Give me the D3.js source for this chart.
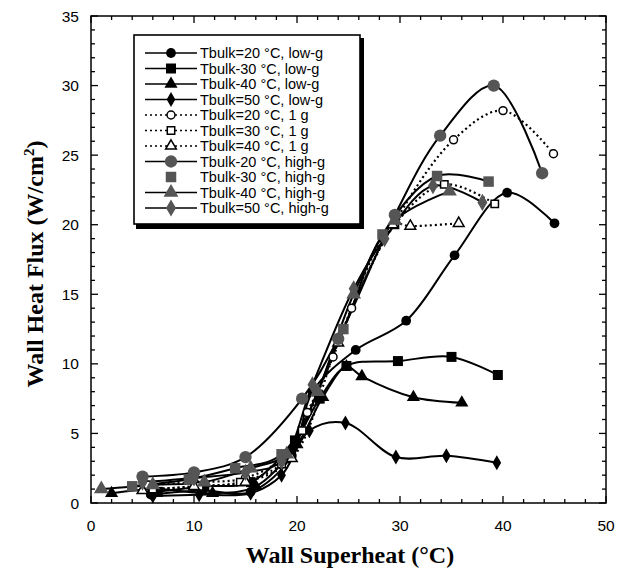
<!DOCTYPE html>
<html>
<head>
<meta charset="utf-8">
<script src="https://cdn.jsdelivr.net/npm/d3@7"></script>
<style>
  body { margin: 0; background: #fff; }
  svg { display: block; }
</style>
</head>
<body>
<svg width="627" height="577"></svg>
<script>
// wall superheat (°C), wall heat flux (W/cm2)
const lowG20 = [[5.8,0.6],[10.8,0.9],[15.5,0.8],[19.5,3.4],[21.5,8.0],[25.7,11.0],[30.6,13.1],[35.3,17.8],[40.4,22.3],[45.0,20.1]];
const lowG30 = [[6.5,0.8],[11,1.2],[15.5,1.5],[19.8,4.5],[22.2,7.5],[24.8,9.85],[29.8,10.2],[35.0,10.5],[39.5,9.2]];
const lowG40 = [[2.0,0.7],[6.2,1.0],[11.8,0.7],[16,1.2],[20,4.2],[22.5,7.6],[24.8,9.8],[26.3,9.1],[31.3,7.6],[36.0,7.2]];
const lowG50 = [[6,0.5],[10.5,0.6],[15.5,0.7],[18.5,2.0],[21.2,5.2],[24.7,5.75],[29.6,3.3],[34.5,3.4],[39.4,2.9]];
const oneG20 = [[5.5,1.3],[10,1.5],[15,1.8],[19,3.5],[21,6.5],[23.5,10.5],[25.3,14.0],[29.5,20.2],[35.2,26.1],[40.0,28.2],[44.9,25.1]];
const oneG30 = [[6,1.0],[10.5,1.2],[14.5,1.5],[18.5,2.8],[20.5,5.2],[24.5,12.5],[29.5,20.0],[34.3,22.9],[39.2,21.5]];
const oneG40 = [[5,0.9],[10,1.2],[15,1.5],[19.5,3.2],[24,11.5],[29.3,20.0],[31.0,19.9],[35.7,20.1]];
const highG20 = [[5,1.9],[10,2.2],[15,3.3],[20.5,7.5],[24,11.8],[29.5,20.7],[33.9,26.4],[39.1,30.0],[43.8,23.7]];
const highG30 = [[4,1.2],[9.5,1.7],[14,2.5],[18.5,3.5],[24.5,12.5],[28.3,19.3],[33.6,23.5],[38.6,23.1]];
const highG40 = [[1,1.0],[6,1.3],[11,1.5],[15.5,2.5],[19,3.5],[22,8],[25.5,15],[29.5,20.3],[34.8,22.4]];
const highG50 = [[5,1.5],[10,1.8],[15,2.2],[18.5,3.0],[21.5,8.5],[25.5,15.4],[28.5,19.0],[33.2,22.8],[38.0,21.6]];

const labels = [
  "Tbulk=20 °C, low-g", "Tbulk-30 °C, low-g", "Tbulk-40 °C, low-g", "Tbulk=50 °C, low-g",
  "Tbulk=20 °C, 1 g", "Tbulk=30 °C, 1 g", "Tbulk=40 °C, 1 g",
  "Tbulk-20 °C, high-g", "Tbulk-30 °C, high-g", "Tbulk-40 °C, high-g", "Tbulk=50 °C, high-g"
];

const gray = "#555";
const series = [
  { data: lowG20, sym: d3.symbolCircle, size: 75, fill: "#000", dash: null },
  { data: lowG30, sym: d3.symbolSquare, size: 100, fill: "#000", dash: null },
  { data: lowG40, sym: d3.symbolTriangle, size: 75, fill: "#000", dash: null },
  { data: lowG50, sym: d3.symbolDiamond, size: 65, fill: "#000", dash: null },
  { data: oneG20, sym: d3.symbolCircle, size: 50, fill: "#fff", dash: "2,3" },
  { data: oneG30, sym: d3.symbolSquare, size: 55, fill: "#fff", dash: "2,3" },
  { data: oneG40, sym: d3.symbolTriangle, size: 50, fill: "#fff", dash: "2,3" },
  { data: highG20, sym: d3.symbolCircle, size: 120, fill: gray, dash: null },
  { data: highG30, sym: d3.symbolSquare, size: 110, fill: gray, dash: null, noLegendLine: true },
  { data: highG40, sym: d3.symbolTriangle, size: 95, fill: gray, dash: null },
  { data: highG50, sym: d3.symbolDiamond, size: 85, fill: gray, dash: null }
];

const svg = d3.select("svg");
const pLeft = 91, pRight = 606, pTop = 16, pBottom = 503;

const x = d3.scaleLinear().domain([0, 50]).range([pLeft, pRight]);
const y = d3.scaleLinear().domain([0, 35]).range([pBottom, pTop]);

// ticks (inward, all four sides)
const axes = svg.append("g").attr("stroke", "#000").attr("stroke-width", 1.3);
d3.range(0, 51, 2).forEach(v => {
  const len = v % 10 === 0 ? 7 : 4;
  axes.append("line").attr("x1", x(v)).attr("x2", x(v)).attr("y1", pBottom).attr("y2", pBottom - len);
  axes.append("line").attr("x1", x(v)).attr("x2", x(v)).attr("y1", pTop).attr("y2", pTop + len);
});
d3.range(0, 36, 1).forEach(v => {
  const len = v % 5 === 0 ? 7 : 4;
  axes.append("line").attr("y1", y(v)).attr("y2", y(v)).attr("x1", pLeft).attr("x2", pLeft + len);
  axes.append("line").attr("y1", y(v)).attr("y2", y(v)).attr("x1", pRight).attr("x2", pRight - len);
});

svg.append("g").selectAll("text").data(d3.range(0, 51, 10)).join("text")
  .attr("x", d => x(d)).attr("y", 531)
  .attr("text-anchor", "middle")
  .style("font", "15.5px 'Liberation Sans', Arial, sans-serif")
  .text(d => d);

svg.append("g").selectAll("text").data(d3.range(0, 36, 5)).join("text")
  .attr("x", 79).attr("y", d => y(d) + 5.5)
  .attr("text-anchor", "end")
  .style("font", "15.5px 'Liberation Sans', Arial, sans-serif")
  .text(d => d);

svg.append("text")
  .attr("x", 350).attr("y", 563)
  .attr("text-anchor", "middle")
  .style("font", "bold 24px 'Liberation Serif', 'Times New Roman', serif")
  .text("Wall Superheat (°C)");

const yt = svg.append("text")
  .attr("transform", "translate(43,264) rotate(-90)")
  .attr("text-anchor", "middle")
  .style("font", "bold 24px 'Liberation Serif', 'Times New Roman', serif");
yt.append("tspan").text("Wall Heat Flux (W/cm");
yt.append("tspan").attr("dy", -9).style("font-size", "15px").text("2");
yt.append("tspan").attr("dy", 9).text(")");

// curves
const line = d3.line()
  .x(d => x(d[0])).y(d => y(d[1]))
  .curve(d3.curveCatmullRom.alpha(0.5));

const plot = svg.append("g");
series.forEach(s => {
  plot.append("path")
    .attr("d", line(s.data))
    .attr("fill", "none")
    .attr("stroke", "#000")
    .attr("stroke-width", s.dash ? 2.2 : 2)
    .attr("stroke-dasharray", s.dash);
});
series.forEach(s => {
  plot.append("g").selectAll("path").data(s.data).join("path")
    .attr("transform", d => `translate(${x(d[0])},${y(d[1])})`)
    .attr("d", d3.symbol().type(s.sym).size(s.size))
    .attr("fill", s.fill)
    .attr("stroke", s.fill === "#fff" ? "#000" : "none")
    .attr("stroke-width", 1.5);
});

svg.append("rect")
  .attr("x", pLeft).attr("y", pTop)
  .attr("width", pRight - pLeft).attr("height", pBottom - pTop)
  .attr("fill", "none").attr("stroke", "#000").attr("stroke-width", 1.5);

// legend
const lg = svg.append("g");
lg.append("rect").attr("x", 136).attr("y", 38).attr("width", 228).attr("height", 191).attr("fill", "#000");
lg.append("rect").attr("x", 134).attr("y", 35).attr("width", 226).attr("height", 189)
  .attr("fill", "#fff").attr("stroke", "#000").attr("stroke-width", 1.6);

series.forEach((s, i) => {
  const ry = 53 + i * 15.5;
  if (!s.noLegendLine) {
    lg.append("line").attr("x1", 145).attr("x2", 197).attr("y1", ry).attr("y2", ry)
      .attr("stroke", "#000").attr("stroke-width", 1.6).attr("stroke-dasharray", s.dash);
  }
  lg.append("path")
    .attr("transform", `translate(171,${ry})`)
    .attr("d", d3.symbol().type(s.sym).size(s.size))
    .attr("fill", s.fill)
    .attr("stroke", s.fill === "#fff" ? "#000" : "none")
    .attr("stroke-width", 1.5);
  lg.append("text")
    .attr("x", 200).attr("y", ry + 5)
    .style("font", "14.5px 'Liberation Sans', Arial, sans-serif")
    .text(labels[i]);
});
</script>
</body>
</html>
